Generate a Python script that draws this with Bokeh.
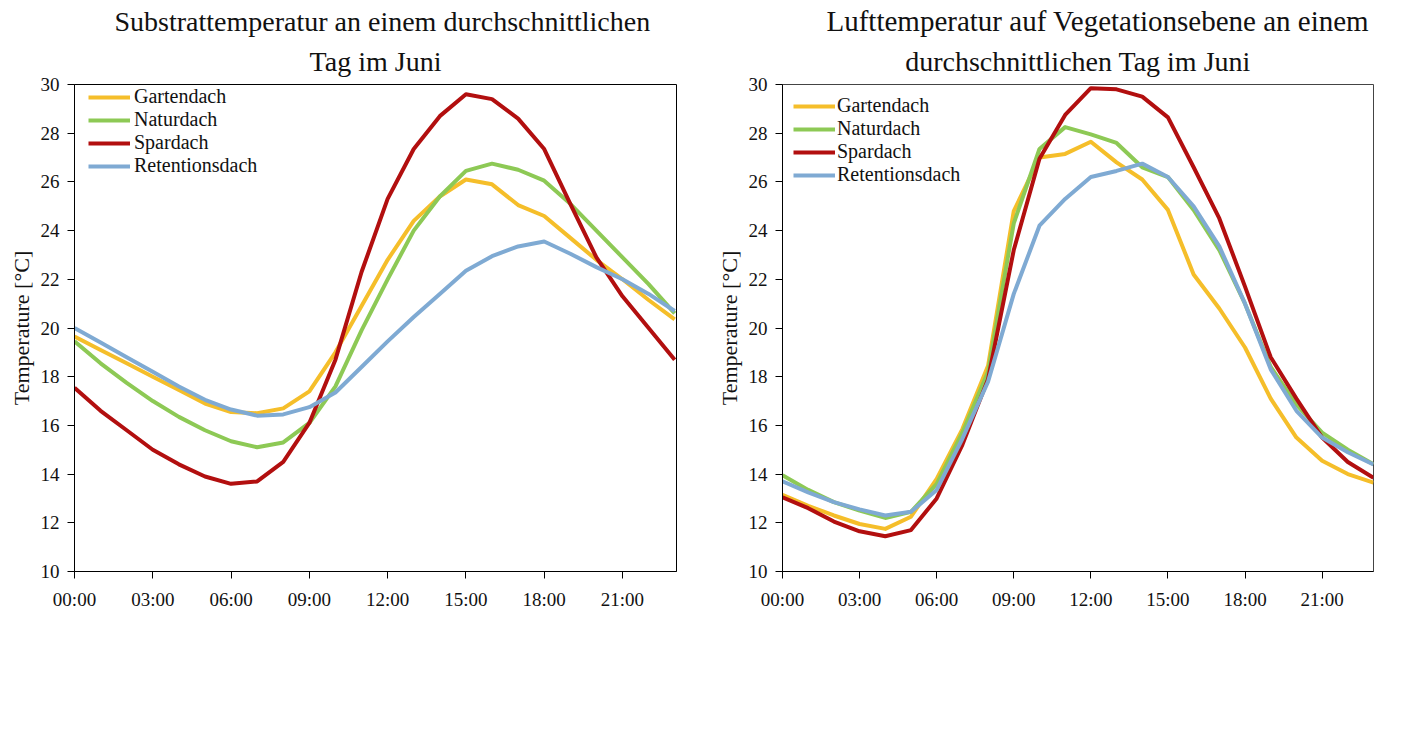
from bokeh.plotting import figure
from bokeh.layouts import row
from bokeh.models import FixedTicker, Title, Range1d, Legend, LegendItem
from bokeh.embed import file_html
from bokeh.resources import INLINE

hours = list(range(24))
tick_hours = [0, 3, 6, 9, 12, 15, 18, 21]
tick_labels = ["00:00", "03:00", "06:00", "09:00", "12:00", "15:00", "18:00", "21:00"]
series_names = ["Gartendach", "Naturdach", "Spardach", "Retentionsdach"]
series_colors = ["#F5BE2A", "#8DC955", "#B20F0F", "#7FAAD3"]

# Substrate temperature (left chart)
sub_garten = [19.65, 19.1, 18.55, 18.0, 17.45, 16.9, 16.55, 16.5, 16.7, 17.4, 19.0, 20.9,
              22.8, 24.4, 25.4, 26.1, 25.9, 25.05, 24.6, 23.7, 22.8, 22.0, 21.15, 20.35]
sub_natur = [19.45, 18.55, 17.75, 17.0, 16.35, 15.8, 15.35, 15.1, 15.3, 16.1, 17.6, 19.9,
             22.0, 24.0, 25.4, 26.45, 26.75, 26.5, 26.05, 25.1, 24.0, 22.9, 21.8, 20.6]
sub_spar = [17.55, 16.6, 15.8, 15.0, 14.4, 13.9, 13.6, 13.7, 14.5, 16.1, 18.7, 22.3,
            25.3, 27.35, 28.7, 29.6, 29.4, 28.6, 27.35, 25.1, 22.9, 21.3, 20.0, 18.7]
sub_ret = [20.0, 19.4, 18.8, 18.2, 17.6, 17.05, 16.65, 16.4, 16.45, 16.75, 17.35, 18.4,
           19.45, 20.45, 21.4, 22.35, 22.95, 23.35, 23.55, 23.05, 22.5, 22.0, 21.4, 20.7]

# Air temperature at vegetation level (right chart)
luft_garten = [13.15, 12.7, 12.3, 11.95, 11.75, 12.25, 13.8, 15.85, 18.45, 24.8, 27.0, 27.15,
               27.65, 26.8, 26.1, 24.85, 22.2, 20.8, 19.2, 17.1, 15.5, 14.55, 14.0, 13.65]
luft_natur = [13.95, 13.35, 12.85, 12.5, 12.2, 12.45, 13.6, 15.7, 18.2, 24.3, 27.35, 28.25,
              27.95, 27.6, 26.6, 26.2, 24.85, 23.2, 21.0, 18.4, 16.85, 15.7, 15.0, 14.4]
luft_spar = [13.05, 12.6, 12.05, 11.65, 11.45, 11.7, 13.0, 15.2, 17.9, 23.2, 26.95, 28.75,
             29.85, 29.8, 29.5, 28.65, 26.6, 24.5, 21.7, 18.8, 17.1, 15.5, 14.5, 13.85]
luft_ret = [13.7, 13.25, 12.85, 12.55, 12.3, 12.45, 13.35, 15.45, 17.8, 21.4, 24.2, 25.3,
            26.2, 26.45, 26.75, 26.2, 25.0, 23.35, 21.0, 18.3, 16.6, 15.5, 14.9, 14.4]

y_ticks = [10, 12, 14, 16, 18, 20, 22, 24, 26, 28, 30]
FONT = "Liberation Serif"


def make_chart(title1, title2, series, width, bl, br, bt, bb, xmax, leg_x, leg_top,
               leg_standoff, t1_offset, t1_size, outline_color):
    p = figure(width=width, height=755, output_backend="svg", toolbar_location=None,
               x_range=Range1d(0, xmax), y_range=Range1d(10, 30),
               min_border_left=bl, min_border_right=br, min_border_top=bt, min_border_bottom=bb,
               background_fill_color="white", border_fill_color="white")
    p.title = None
    p.add_layout(Title(text=title2, align="center", text_font=FONT, text_font_size="28px",
                       text_font_style="normal", text_color="#111111", standoff=15), "above")
    p.add_layout(Title(text=title1, align="left", text_font=FONT, text_font_size=t1_size,
                       text_font_style="normal", text_color="#111111", offset=t1_offset,
                       standoff=0, text_line_height=0.8), "above")
    p.grid.visible = False
    p.outline_line_color = outline_color
    p.outline_line_width = 1

    p.xaxis.ticker = FixedTicker(ticks=tick_hours)
    p.xaxis.major_label_overrides = {h: l for h, l in zip(tick_hours, tick_labels)}
    p.yaxis.ticker = FixedTicker(ticks=y_ticks)
    for ax in (p.xaxis, p.yaxis):
        ax.axis_line_color = "black"
        ax.major_tick_line_color = "black"
        ax.major_tick_out = 7
        ax.major_tick_in = 0
        ax.minor_tick_line_color = None
        ax.major_label_text_font = FONT
        ax.major_label_text_font_size = "19px"
        ax.major_label_text_color = "#111111"
    p.xaxis.major_label_standoff = 10
    p.yaxis.major_label_standoff = 8
    p.yaxis.axis_label = "Temperature [°C]"
    p.yaxis.axis_label_text_font = FONT
    p.yaxis.axis_label_text_font_size = "22px"
    p.yaxis.axis_label_text_font_style = "normal"
    p.yaxis.axis_label_text_color = "#111111"
    p.yaxis.axis_label_standoff = 4

    items = []
    for name, color, vals in zip(series_names, series_colors, series):
        r = p.line(hours, vals, line_color=color, line_width=4, line_join="round")
        items.append(LegendItem(label=name, renderers=[r]))

    leg_h = 4 * 24
    frame_h = 755 - bt - bb
    legend = Legend(items=items, location=(leg_x, frame_h - leg_top - leg_h),
                    orientation="vertical", border_line_color=None,
                    background_fill_alpha=0.0, margin=0, padding=0, spacing=0,
                    glyph_width=42, glyph_height=20, label_height=20,
                    label_standoff=leg_standoff, label_text_font=FONT,
                    label_text_font_size="20px", label_text_color="#111111")
    p.add_layout(legend, "center")
    return p


p1 = make_chart("Substrattemperatur an einem durchschnittlichen", "Tag im Juni",
                [sub_garten, sub_natur, sub_spar, sub_ret],
                706, 74, 30, 84, 184, 23.07, 14, -3, 4, 40, "28px", "black")
p2 = make_chart("Lufttemperatur  auf Vegetationsebene an einem",
                "durchschnittlichen Tag im Juni",
                [luft_garten, luft_natur, luft_spar, luft_ret],
                701, 76, 34, 84, 182, 23.0, 11, 8, 2, 44, "29px", "#444444")

layout = row(p1, p2, spacing=0)
open("out.html", "w").write(file_html(layout, INLINE))
